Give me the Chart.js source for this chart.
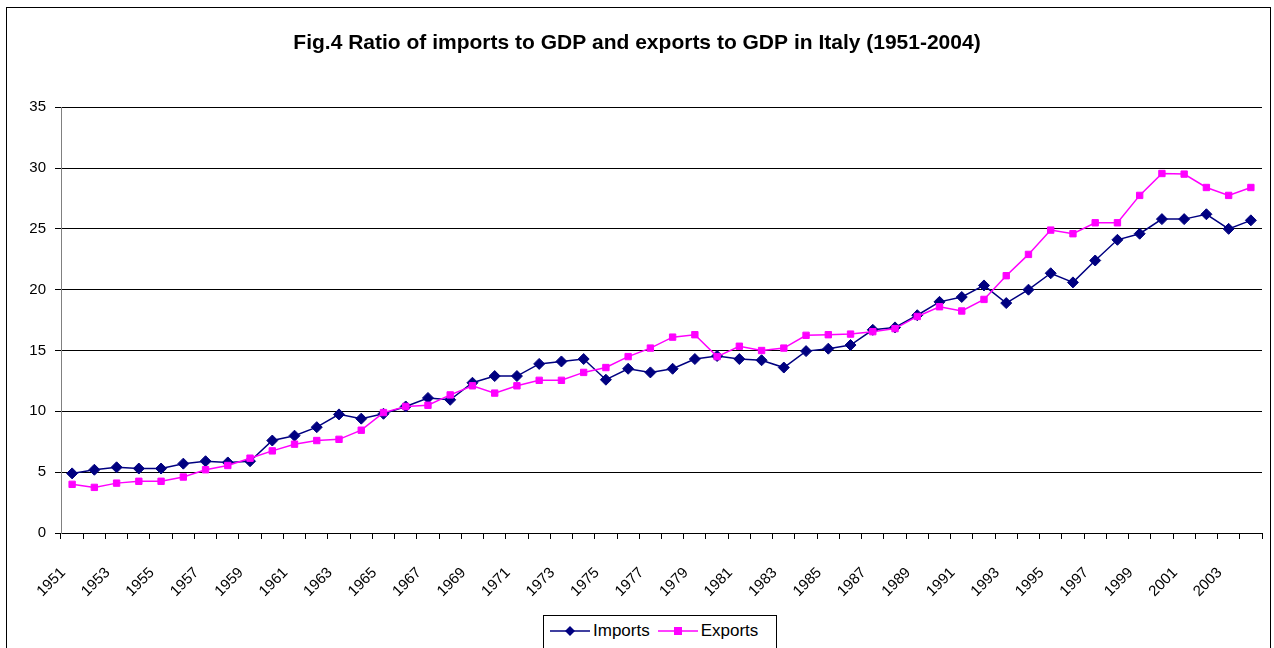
<!DOCTYPE html>
<html>
<head>
<meta charset="utf-8">
<script src="https://cdn.jsdelivr.net/npm/chart.js@4.4.1/dist/chart.umd.min.js"></script>
<style>
  body { margin: 0; background: #fff; font-family: "Liberation Sans", Arial, sans-serif; }
  #wrap { position: relative; width: 1274px; height: 648px; overflow: hidden; }
  #frame { position: absolute; left: 6px; top: 7px; width: 1265px; height: 700px; border: 1px solid #000; box-sizing: border-box; pointer-events: none; }
  #legend { position: absolute; left: 543px; top: 615px; width: 234px; height: 40px; border: 1px solid #000; box-sizing: border-box; background: #fff; display: flex; align-items: flex-start; padding: 5px 0 0 6px; font-size: 17px; color: #000; }
  #legend span.item { display: inline-flex; align-items: center; margin-right: 8px; }
  #legend svg { margin-right: 3px; }
</style>
</head>
<body>
<div id="wrap">
  <canvas id="chart" width="1274" height="648"></canvas>
  <div id="frame"></div>
  <div id="legend"></div>
</div>
<script>
const years = ['1951','1952','1953','1954','1955','1956','1957','1958','1959','1960',
  '1961','1962','1963','1964','1965','1966','1967','1968','1969','1970',
  '1971','1972','1973','1974','1975','1976','1977','1978','1979','1980',
  '1981','1982','1983','1984','1985','1986','1987','1988','1989','1990',
  '1991','1992','1993','1994','1995','1996','1997','1998','1999','2000',
  '2001','2002','2003','2004'];

const importsRatio = [4.9, 5.2, 5.4, 5.3, 5.3, 5.7, 5.9, 5.8, 5.9, 7.6,
  8.0, 8.7, 9.75, 9.4, 9.8, 10.4, 11.1, 10.95, 12.35, 12.9,
  12.9, 13.9, 14.1, 14.3, 12.6, 13.5, 13.2, 13.5, 14.3, 14.55,
  14.3, 14.2, 13.6, 14.95, 15.15, 15.45, 16.7, 16.9, 17.9, 19.0,
  19.4, 20.35, 18.9, 20.0, 21.35, 20.6, 22.4, 24.1, 24.6, 25.8,
  25.8, 26.2, 25.0, 25.7];

const exportsRatio = [4.0, 3.75, 4.1, 4.25, 4.25, 4.6, 5.2, 5.55, 6.15, 6.75,
  7.3, 7.6, 7.7, 8.45, 9.9, 10.4, 10.5, 11.35, 12.1, 11.5,
  12.1, 12.55, 12.55, 13.2, 13.6, 14.5, 15.2, 16.1, 16.3, 14.5,
  15.35, 15.0, 15.2, 16.25, 16.3, 16.35, 16.55, 16.8, 17.8, 18.6,
  18.25, 19.2, 21.15, 22.9, 24.9, 24.6, 25.5, 25.5, 27.75, 29.55,
  29.5, 28.4, 27.75, 28.4];

const seriesNames = ['Imports', 'Exports'];
const seriesColors = ['#000080', '#FF00FF'];
const seriesMarkers = ['rectRot', 'rect'];

const fontFamily = '"Liberation Sans", Arial, sans-serif';

const ctx = document.getElementById('chart').getContext('2d');
const chart = new Chart(ctx, {
  type: 'line',
  data: {
    labels: years,
    datasets: [
      {
        label: seriesNames[0],
        data: importsRatio,
        borderColor: seriesColors[0],
        backgroundColor: seriesColors[0],
        borderWidth: 1.5,
        pointStyle: seriesMarkers[0],
        pointRadius: 5.5,
        pointBorderWidth: 1,
        tension: 0,
        order: 1
      },
      {
        label: seriesNames[1],
        data: exportsRatio,
        borderColor: seriesColors[1],
        backgroundColor: seriesColors[1],
        borderWidth: 1.5,
        pointStyle: seriesMarkers[1],
        pointRadius: 4.5,
        pointBorderWidth: 1,
        tension: 0,
        order: 0
      }
    ]
  },
  options: {
    responsive: false,
    animation: false,
    layout: { padding: 0 },
    plugins: {
      legend: { display: false },
      tooltip: { enabled: false },
      title: {
        display: true,
        text: 'Fig.4 Ratio of imports to GDP and exports to GDP in Italy (1951-2004)',
        color: '#000',
        font: { family: fontFamily, size: 21, weight: 'bold' },
        padding: { top: 31, bottom: 51 }
      }
    },
    scales: {
      x: {
        type: 'category',
        offset: true,
        grid: { offset: true, drawOnChartArea: false, drawTicks: true, tickLength: 6, color: '#000' },
        border: { color: '#000', width: 1 },
        ticks: {
          autoSkip: false,
          minRotation: 45,
          maxRotation: 45,
          padding: 25,
          labelOffset: -9,
          color: '#000',
          font: { family: fontFamily, size: 15 },
          callback: (value, index) => (index % 2 === 0 ? years[index] : '')
        },
        afterFit: (scale) => {
          scale.height = 115;
          scale.paddingLeft = 0;
          scale.paddingRight = 12;
        }
      },
      y: {
        min: 0,
        max: 35,
        grid: { color: '#000', tickLength: 6, drawTicks: true },
        border: { color: '#808080', width: 1 },
        ticks: {
          stepSize: 5,
          padding: 9,
          color: '#000',
          font: { family: fontFamily, size: 15 }
        },
        afterFit: (scale) => { scale.width = 61; }
      }
    }
  }
});

// legend built as html, marker symbols drawn in small svgs
function markerSvg(color, style) {
  const shape = style === 'rect'
    ? `<rect x="16" y="4" width="8" height="8" fill="${color}"/>`
    : `<polygon points="20,3 25,8 20,13 15,8" fill="${color}"/>`;
  return `<svg width="40" height="16" viewBox="0 0 40 16"><line x1="0" y1="8" x2="40" y2="8" stroke="${color}" stroke-width="1.5"/>${shape}</svg>`;
}
const legendEl = document.getElementById('legend');
legendEl.innerHTML = seriesNames.map((name, i) =>
  `<span class="item">${markerSvg(seriesColors[i], seriesMarkers[i])}${name}</span>`).join('');
</script>
</body>
</html>
